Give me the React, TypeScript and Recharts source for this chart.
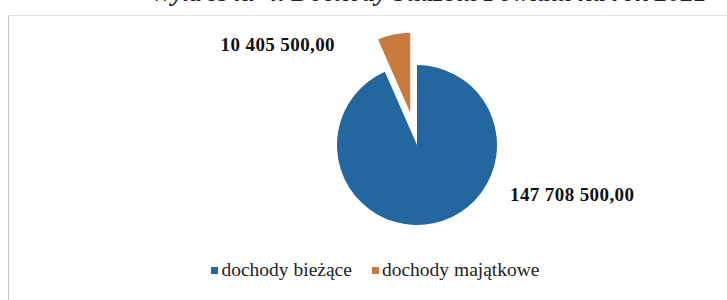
import React from "react";
import { Cell, Legend, Pie, PieChart, Sector } from "recharts";

const categories = ["dochody bieżące", "dochody majątkowe"];
const values = [147708500, 10405500];
const colors = ["#22679f", "#c97a3f"];
const exploded = [false, true];

const data = categories.map((name, i) => ({ name, value: values[i] }));

const RAD = Math.PI / 180;
const SERIF = "'Liberation Serif', 'Times New Roman', serif";

function formatPl(v: number) {
  const [int, dec] = v.toFixed(2).split(".");
  return int.replace(/\B(?=(\d{3})+(?!\d))/g, " ") + "," + dec;
}

// exploded slice is drawn here, shifted along its mid angle
function renderLabel(p: any) {
  const { cx, cy, midAngle, innerRadius, outerRadius, startAngle, endAngle, index, value } = p;
  const off = 33;
  const sx = cx + off * Math.cos(-midAngle * RAD);
  const sy = cy + off * Math.sin(-midAngle * RAD);
  const text = formatPl(value);
  const style = { fontFamily: SERIF, fontWeight: 700, fontSize: 19, letterSpacing: 0.4 };
  return (
    <g key={`lbl-${index}`}>
      {exploded[index] && (
        <Sector
          cx={sx}
          cy={sy}
          innerRadius={innerRadius}
          outerRadius={outerRadius}
          startAngle={startAngle}
          endAngle={endAngle}
          fill={colors[index]}
        />
      )}
      {index === 0 ? (
        <text x={cx + outerRadius + 13} y={cy + 49} dominantBaseline="central" textAnchor="start" fill="#111" style={style}>
          {text}
        </text>
      ) : (
        <text x={cx - 82} y={cy - 101} dominantBaseline="central" textAnchor="end" fill="#111" style={style}>
          {text}
        </text>
      )}
    </g>
  );
}

function LegendContent() {
  return (
    <div style={{ display: "flex", justifyContent: "center", fontFamily: SERIF, fontSize: 19.5, color: "#222", paddingLeft: 24 }}>
      {categories.map((c, i) => (
        <div key={c} style={{ display: "flex", alignItems: "center", marginRight: i === 0 ? 20 : 0 }}>
          <span style={{ width: 7, height: 7, background: colors[i], marginRight: 3, display: "inline-block" }} />
          <span>{c}</span>
        </div>
      ))}
    </div>
  );
}

export default function App() {
  return (
    <div style={{ position: "fixed", left: 0, top: 0, width: 727, height: 300, overflow: "hidden", background: "#fff" }}>
      <div
        style={{
          position: "absolute",
          left: 150,
          top: -22,
          whiteSpace: "nowrap",
          fontFamily: SERIF,
          fontStyle: "italic",
          fontWeight: 700,
          fontSize: 26,
          color: "#222",
        }}
      >
        Wykres nr 4. Dochody budżetu Powiatu na rok 2021
      </div>
      <div
        style={{
          position: "absolute",
          left: 8,
          top: 15,
          width: 740,
          height: 300,
          borderLeft: "1px solid #c8c8c8",
          borderTop: "1px solid #e2e2e2",
        }}
      />
      <div style={{ position: "absolute", left: 0, top: 0 }}>
        <PieChart width={727} height={300}>
          <Pie
            data={data}
            dataKey="value"
            nameKey="name"
            cx={412}
            cy={140}
            outerRadius={80}
            startAngle={90}
            endAngle={-270}
            stroke="none"
            labelLine={false}
            label={renderLabel}
            isAnimationActive={false}
          >
            {data.map((d, i) => (
              <Cell key={d.name} fill={exploded[i] ? "transparent" : colors[i]} />
            ))}
          </Pie>
          <Legend verticalAlign="bottom" wrapperStyle={{ top: 259, bottom: "auto" }} content={LegendContent} />
        </PieChart>
      </div>
    </div>
  );
}
